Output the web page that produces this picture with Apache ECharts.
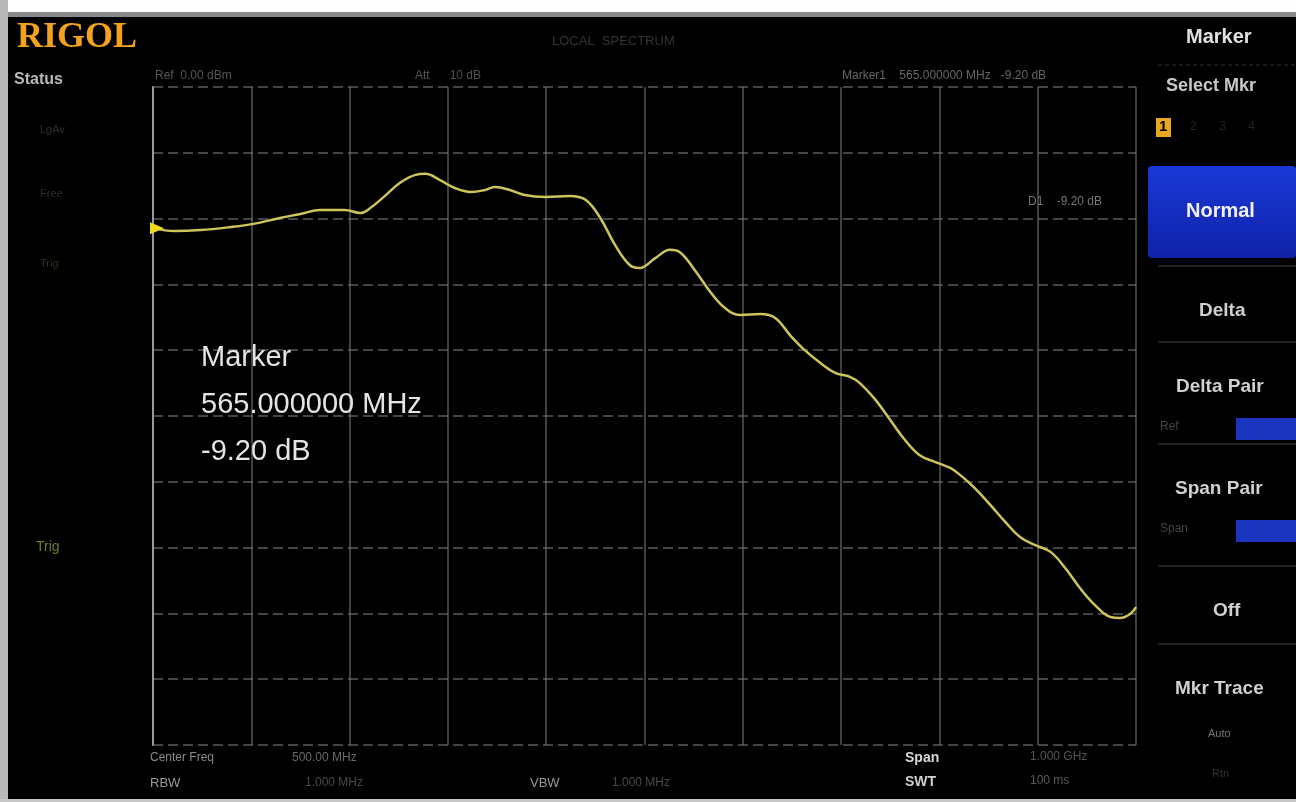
<!DOCTYPE html>
<html>
<head>
<meta charset="utf-8">
<script src="https://cdn.jsdelivr.net/npm/echarts@6/dist/echarts.min.js"></script>
<style>
  html, body { margin: 0; padding: 0; background: #fff; }
  #main { width: 1296px; height: 802px; }
</style>
</head>
<body>
<div id="main"></div>
<script>
// frequency in MHz (screen span 0 .. 1000), level in dB
var freqs = [0, 22, 48, 78, 102, 129, 150, 170, 195, 211, 221, 236, 251, 267, 277, 292, 307, 323, 338, 348,
  363, 378, 399, 424, 440, 455, 470, 485, 495, 511, 526, 536, 551, 567, 582, 597, 618, 633, 648, 663,
  679, 694, 709, 719, 735, 750, 765, 780, 796, 811, 821, 836, 852, 867, 882, 897, 913, 928, 943, 958,
  974, 984, 994, 1000];
var levels = [-4.29, -4.38, -4.35, -4.26, -4.16, -3.98, -3.86, -3.74, -3.74, -3.83, -3.68, -3.31, -2.92, -2.67, -2.64, -2.83, -3.07, -3.19, -3.13, -3.04,
  -3.13, -3.28, -3.34, -3.31, -3.43, -3.98, -4.80, -5.41, -5.50, -5.20, -4.95, -5.02, -5.56, -6.23, -6.72, -6.93, -6.90, -7.02, -7.54, -8.00,
  -8.39, -8.69, -8.81, -9.00, -9.51, -10.12, -10.73, -11.19, -11.40, -11.58, -11.79, -12.19, -12.71, -13.22, -13.68, -13.92, -14.13, -14.62, -15.23, -15.74,
  -16.11, -16.14, -16.02, -15.81];
var menuItems = ['Delta', 'Delta Pair', 'Span Pair', 'Off', 'Mkr Trace'];
var markerLines = ['Marker', '565.000000 MHz', '-9.20 dB'];

var dom = document.getElementById('main');
var myChart = echarts.init(dom);

var trace = freqs.map(function (f, i) { return [f, levels[i]]; });
var font = '"Liberation Sans", Arial, sans-serif';

function txt(x, y, s, size, color, extra) {
  var st = { text: s, fill: color, font: (extra || '') + ' ' + size + 'px ' + font };
  return { type: 'text', left: x, top: y, style: st, z: 20 };
}

var graphics = [
  // screen frame bits
  { type: 'rect', shape: { x: 0, y: 0, width: 1296, height: 12 }, style: { fill: '#fdfdfd' }, z: 30 },
  { type: 'rect', shape: { x: 0, y: 12, width: 1296, height: 5 }, style: { fill: '#8a8a8a' }, z: 30 },
  { type: 'rect', shape: { x: 0, y: 0, width: 8, height: 802 }, style: { fill: '#b8b8b8' }, z: 30 },
  { type: 'rect', shape: { x: 0, y: 799, width: 1296, height: 3 }, style: { fill: '#c8c8c8' }, z: 30 },
  // logo
  { type: 'text', left: 17, top: 20, style: { text: 'RIGOL', fill: '#f2a31b', font: 'bold 36px "Liberation Serif", "DejaVu Serif", serif' }, z: 20 },
  txt(14, 72, 'Status', 16, '#b8b8b8', 'bold'),
  txt(552, 35, 'LOCAL  SPECTRUM', 13, '#333'),
  txt(155, 70, 'Ref  0.00 dBm', 12, '#555'),
  txt(415, 70, 'Att      10 dB', 12, '#555'),
  txt(842, 70, 'Marker1    565.000000 MHz   -9.20 dB', 12, '#666'),
  txt(1028, 196, 'D1    -9.20 dB', 12, '#777'),
  // left status column
  txt(40, 124, 'LgAv', 11, '#2e2e2e'),
  txt(40, 188, 'Free', 11, '#2e2e2e'),
  txt(40, 258, 'Trig', 11, '#33331f'),
  txt(36, 540, 'Trig', 14, '#6f7c2a'),
  // bottom readouts
  txt(150, 752, 'Center Freq', 12, '#8a8a8a'),
  txt(292, 752, '500.00 MHz', 12, '#6a6a6a'),
  txt(150, 777, 'RBW', 13, '#9a9a9a'),
  txt(305, 777, '1.000 MHz', 12, '#4a4a4a'),
  txt(530, 777, 'VBW', 13, '#9a9a9a'),
  txt(612, 777, '1.000 MHz', 12, '#4a4a4a'),
  txt(905, 751, 'Span', 14, '#d8d8d8', 'bold'),
  txt(1030, 751, '1.000 GHz', 12, '#555'),
  txt(905, 775, 'SWT', 14, '#d0d0d0', 'bold'),
  txt(1030, 775, '100 ms', 12, '#5a5a5a'),
  // right menu
  txt(1186, 27, 'Marker', 20, '#e0e0e0', 'bold'),
  { type: 'line', shape: { x1: 1158, y1: 65, x2: 1296, y2: 65 }, style: { stroke: '#333', lineDash: [4, 3] }, z: 20 },
  txt(1166, 77, 'Select Mkr', 18, '#c8c8c8', 'bold'),
  { type: 'rect', shape: { x: 1156, y: 118, width: 15, height: 19 }, style: { fill: '#e8a820' }, z: 20 },
  txt(1159, 119, '1', 15, '#000', 'bold'),
  txt(1190, 120, '2      3      4', 13, '#222'),
  { type: 'rect', shape: { x: 1148, y: 166, width: 148, height: 92, r: 4 },
    style: { fill: new echarts.graphic.LinearGradient(0, 0, 0, 1, [{ offset: 0, color: '#1a38d8' }, { offset: 1, color: '#0f22a8' }]) }, z: 19 },
  txt(1186, 201, 'Normal', 20, '#f0f0f0', 'bold')
];

var menuY = [301, 377, 479, 601, 679];
var menuX = [1199, 1176, 1175, 1213, 1175];
menuItems.forEach(function (s, i) {
  graphics.push(txt(menuX[i], menuY[i], s, 19, '#d0d0d0', 'bold'));
  graphics.push({ type: 'line', shape: { x1: 1158, y1: menuY[i] - 35, x2: 1296, y2: menuY[i] - 35 }, style: { stroke: '#222', lineWidth: 2 }, z: 20 });
});
graphics.push({ type: 'rect', shape: { x: 1236, y: 418, width: 60, height: 22 }, style: { fill: '#1a34c0' }, z: 20 });
graphics.push(txt(1160, 421, 'Ref', 12, '#444'));
graphics.push({ type: 'rect', shape: { x: 1236, y: 520, width: 60, height: 22 }, style: { fill: '#1a34c0' }, z: 20 });
graphics.push(txt(1160, 523, 'Span', 12, '#444'));
graphics.push(txt(1208, 728, 'Auto', 11, '#777'));
graphics.push(txt(1212, 768, 'Rtn', 11, '#333'));

// marker readout
markerLines.forEach(function (s, i) {
  graphics.push(txt(201, 343 + i * 47, s, 29, '#e4e4e4'));
});

option = {
  backgroundColor: '#000',
  animation: false,
  grid: { left: 153, top: 87, width: 983, height: 658 },
  xAxis: {
    type: 'value',
    min: 0,
    max: 1000,
    interval: 100,
    axisLine: { show: false },
    axisTick: { show: false },
    axisLabel: { show: false },
    splitLine: { show: true, lineStyle: { color: '#7a7a7a', width: 1.5, opacity: 0.7 } }
  },
  yAxis: {
    type: 'value',
    min: -20,
    max: 0,
    interval: 2,
    axisLine: { show: true, lineStyle: { color: '#9a9a9a', width: 2 } },
    axisTick: { show: false },
    axisLabel: { show: false },
    splitLine: { show: true, lineStyle: { color: '#444', width: 2, type: [10, 5] } }
  },
  graphic: graphics,
  series: [
    {
      name: 'Trace1',
      type: 'line',
      data: trace,
      smooth: 0.4,
      showSymbol: false,
      lineStyle: { color: '#cdc55c', width: 2.5 },
      markPoint: {
        symbol: 'triangle',
        symbolSize: [12, 14],
        symbolRotate: -90,
        itemStyle: { color: '#f0d81c' },
        label: { show: false },
        data: [{ coord: trace[0], symbolOffset: [4, 0] }]
      }
    }
  ]
};

if (option && typeof option === 'object') {
  myChart.setOption(option);
}
</script>
</body>
</html>
